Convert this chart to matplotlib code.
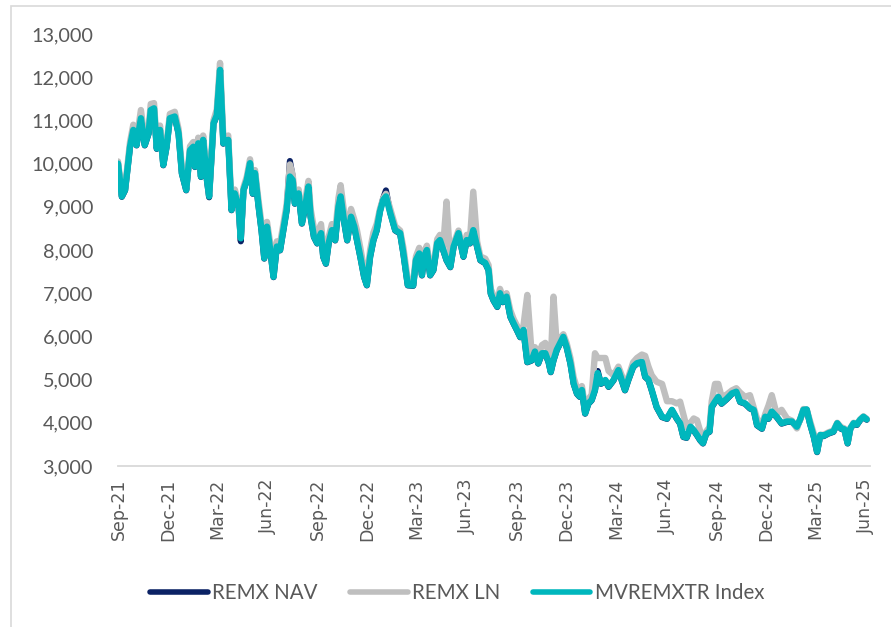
import numpy as np
import pandas as pd
import matplotlib
matplotlib.use("Agg")
import matplotlib.pyplot as plt
import matplotlib.dates as mdates
from matplotlib.ticker import FuncFormatter, MultipleLocator
from matplotlib.patches import Rectangle

START = "2021-08-31"

# days after START, shared by the three series
DAYS = [0, 7, 13, 22, 28, 34, 42, 49, 56, 60, 66, 71, 77, 83, 89, 95, 104, 111, 117, 125,
        132, 138, 141, 147, 152, 156, 163, 167, 175, 181, 187, 193, 202, 208, 214, 221, 225, 230, 236, 242,
        247, 251, 257, 263, 268, 273, 279, 285, 291, 297, 303, 309, 315, 320, 324, 331, 337, 343, 349, 353,
        359, 365, 372, 376, 381, 386, 392, 398, 404, 408, 414, 420, 427, 433, 438, 444, 451, 456, 462, 468,
        474, 480, 486, 491, 499, 508, 517, 523, 531, 541, 546, 552, 557, 561, 566, 572, 578, 585, 590, 596,
        602, 609, 615, 624, 633, 639, 645, 651, 658, 664, 673, 679, 683, 688, 695, 700, 705, 712, 719, 725,
        731, 737, 743, 750, 758, 764, 770, 777, 783, 789, 793, 798, 804, 810, 816, 822, 829, 835, 841, 846,
        850, 856, 862, 868, 874, 879, 885, 893, 899, 908, 917, 923, 929, 935, 944, 951, 960, 966, 972, 978,
        987, 997, 1006, 1015, 1024, 1030, 1036, 1042, 1049, 1055, 1061, 1067, 1072, 1078, 1084, 1088, 1094, 1100, 1106, 1115,
        1125, 1133, 1140, 1149, 1158, 1165, 1171, 1180, 1186, 1192, 1198, 1207, 1216, 1226, 1235, 1244, 1250, 1256, 1262, 1268,
        1275, 1281, 1287, 1293, 1302, 1311, 1318, 1325, 1331, 1337, 1342, 1348, 1354, 1360, 1366, 1372]

INDEX = [10000, 9240, 9390, 10390, 10780, 10430, 11050, 10430, 10700, 11240, 11280, 10350, 10780, 9970, 10390, 11050, 11090, 10700, 9780, 9390,
         10310, 10390, 9930, 10470, 9700, 10550, 9620, 9240, 10930, 11120, 12170, 10470, 10550, 8930, 9310, 9000, 8270, 9390, 9620, 10010,
         9310, 9780, 9080, 8460, 7810, 8540, 8000, 7380, 8080, 8000, 8460, 8930, 9700, 9620, 9080, 9310, 8620, 9000, 9470, 8770,
         8310, 8160, 8390, 7850, 7690, 8160, 8460, 8230, 9000, 9240, 8690, 8230, 8770, 8540, 8230, 7850, 7380, 7190, 7850, 8230,
         8460, 8890, 9160, 9240, 8850, 8460, 8390, 7920, 7190, 7180, 7770, 7920, 7420, 7850, 8000, 7420, 7540, 8160, 8230, 8000,
         7770, 7610, 8080, 8390, 7850, 8230, 8160, 8460, 8080, 7770, 7700, 7540, 7000, 6840, 6690, 7000, 6800, 6920, 6460, 6300,
         6150, 5990, 6150, 5410, 5450, 5650, 5380, 5610, 5610, 5410, 5180, 5450, 5690, 5840, 5990, 5760, 5380, 4910, 4680, 4610,
         4760, 4220, 4450, 4530, 4760, 5150, 4910, 4990, 4840, 4990, 5220, 4990, 4760, 4990, 5300, 5380, 5410, 5070, 5000, 4760,
         4370, 4140, 4100, 4300, 4100, 3990, 3680, 3660, 3910, 3830, 3720, 3600, 3530, 3760, 3800, 4370, 4490, 4600, 4450, 4550,
         4680, 4720, 4490, 4450, 4340, 4300, 3950, 3870, 4140, 4100, 4260, 4140, 3990, 4030, 4030, 3910, 4080, 4300, 4310, 3990,
         3680, 3330, 3720, 3700, 3760, 3800, 3990, 3870, 3850, 3530, 3870, 3990, 3960, 4070, 4140, 4080]

NAV = [10000, 9230, 9380, 10380, 10770, 10420, 11040, 10420, 10690, 11230, 11270, 10340, 10770, 9960, 10380, 11040, 11080, 10690, 9770, 9380,
       10300, 10380, 9920, 10460, 9690, 10540, 9610, 9220, 10920, 11110, 12160, 10460, 10540, 8920, 9300, 8990, 8200, 9380, 9610, 10000,
       9300, 9770, 9070, 8450, 7800, 8530, 7990, 7370, 8070, 7990, 8450, 8920, 10060, 9700, 9070, 9300, 8610, 8990, 9460, 8760,
       8300, 8150, 8380, 7840, 7680, 8150, 8450, 8220, 8990, 9230, 8680, 8220, 8760, 8530, 8220, 7840, 7370, 7180, 7840, 8220,
       8450, 8900, 9200, 9380, 8860, 8450, 8380, 7910, 7180, 7170, 7760, 7910, 7410, 7840, 7990, 7410, 7530, 8150, 8220, 7990,
       7760, 7600, 8070, 8380, 7840, 8220, 8150, 8450, 8070, 7760, 7690, 7530, 6990, 6830, 6680, 6990, 6790, 6910, 6450, 6290,
       6140, 5980, 6140, 5400, 5440, 5640, 5370, 5600, 5600, 5400, 5170, 5440, 5680, 5830, 5980, 5750, 5370, 4900, 4670, 4600,
       4750, 4210, 4440, 4520, 4750, 5200, 4900, 4980, 4830, 4980, 5240, 4980, 4750, 4980, 5290, 5370, 5400, 5060, 4990, 4750,
       4360, 4130, 4090, 4290, 4090, 3980, 3670, 3650, 3900, 3820, 3710, 3590, 3520, 3750, 3790, 4360, 4480, 4590, 4440, 4540,
       4670, 4740, 4480, 4440, 4330, 4290, 3940, 3860, 4130, 4090, 4250, 4130, 3980, 4020, 4020, 3900, 4070, 4290, 4300, 3980,
       3670, 3320, 3710, 3690, 3750, 3790, 3980, 3860, 3840, 3520, 3860, 3980, 3950, 4060, 4130, 4070]

LN = [10050, 9300, 9450, 10500, 10900, 10550, 11240, 10550, 10800, 11380, 11400, 10450, 10880, 10050, 10450, 11150, 11200, 10800, 9900, 9450,
      10400, 10500, 10050, 10600, 9850, 10650, 9750, 9300, 11000, 11250, 12330, 10600, 10650, 9050, 9400, 9100, 8350, 9450, 9700, 10100,
      9450, 9850, 9200, 8600, 8300, 8650, 8150, 7550, 8200, 8150, 8600, 9050, 9980, 9750, 9250, 9400, 8800, 9150, 9600, 8950,
      8500, 8350, 8600, 8100, 7900, 8300, 8600, 8400, 9200, 9500, 8900, 8450, 8950, 8700, 8450, 8050, 7550, 7300, 8000, 8400,
      8600, 8950, 9200, 9300, 8950, 8550, 8450, 8050, 7300, 7280, 7850, 8050, 7550, 7950, 8100, 7550, 7650, 8250, 8350, 8100,
      9120, 7700, 8150, 8450, 7950, 8350, 8250, 9350, 8200, 7850, 7800, 7650, 7100, 6950, 6800, 7100, 6900, 7000, 6600, 6400,
      6250, 6100, 6250, 6960, 5600, 5750, 5550, 5800, 5850, 5650, 5400, 6920, 5800, 5950, 6050, 5850, 5500, 5050, 4800, 4700,
      4850, 4350, 4550, 4650, 5610, 5500, 5500, 5500, 5200, 5100, 5300, 5100, 4900, 5050, 5400, 5500, 5580, 5550, 5300, 5100,
      4950, 4900, 4500, 4500, 4450, 4490, 4200, 3900, 4000, 4100, 4060, 3800, 3700, 3800, 3900, 4500, 4900, 4900, 4600, 4650,
      4750, 4800, 4700, 4600, 4640, 4350, 4100, 3950, 4200, 4400, 4640, 4200, 4300, 4100, 4050, 3870, 4080, 4320, 4300, 4050,
      3750, 3400, 3720, 3720, 3780, 3820, 4000, 3900, 3870, 3560, 3880, 4000, 3980, 4080, 4150, 4090]

SERIES = ["REMX NAV", "REMX LN", "MVREMXTR Index"]
COLORS = ["#0B2265", "#BFBFBF", "#00B7BD"]

dates = pd.to_datetime(START) + pd.to_timedelta(DAYS, unit="D")

W, H = 891, 627
fig = plt.figure(figsize=(W / 100, H / 100), dpi=100)
# chart frame: only left and top edges fall inside the picture
fig.patches.append(Rectangle((11 / W, -0.1), 1.2, 1.1 - 6 / H, transform=fig.transFigure,
                             fill=False, edgecolor="#D9D9D9", linewidth=1.2))

ax = fig.add_axes([118 / W, 1 - 466 / H, 752 / W, 432 / H])
ax.plot(dates, NAV, color=COLORS[0], lw=4.4, solid_capstyle="round", solid_joinstyle="round", label=SERIES[0])
ax.plot(dates, LN, color=COLORS[1], lw=4.6, solid_capstyle="round", solid_joinstyle="round", label=SERIES[1])
ax.plot(dates, INDEX, color=COLORS[2], lw=4.6, solid_capstyle="round", solid_joinstyle="round", label=SERIES[2])

ax.set_ylim(3000, 13000)
ax.set_xlim(pd.to_datetime(START), pd.to_datetime(START) + pd.Timedelta(days=1378))
ax.yaxis.set_major_locator(MultipleLocator(1000))
ax.yaxis.set_major_formatter(FuncFormatter(lambda v, p: f"{v:,.0f}"))
ax.xaxis.set_major_locator(mdates.MonthLocator(bymonth=[3, 6, 9, 12], bymonthday=1))
ax.xaxis.set_major_formatter(mdates.DateFormatter("%b-%y"))

for s in ["top", "right", "left"]:
    ax.spines[s].set_visible(False)
ax.spines["bottom"].set_color("#D9D9D9")
ax.spines["bottom"].set_linewidth(1.3)
ax.tick_params(axis="both", length=0)
ax.tick_params(axis="y", pad=18, labelsize=14.3, labelcolor="#595959")
ax.tick_params(axis="x", pad=9, labelsize=12.5, labelcolor="#595959", rotation=90)
for t in ax.get_yticklabels():
    t.set_fontfamily("Lato")
for t in ax.get_xticklabels():
    t.set_fontfamily("DejaVu Sans")

leg = fig.legend(loc="center", bbox_to_anchor=(457 / W, 1 - 593 / H), ncol=3, frameon=False,
                 handlelength=2.8, handletextpad=0.2, columnspacing=1.6,
                 prop={"family": "Lato", "size": 14.8})
for t in leg.get_texts():
    t.set_color("#595959")
for h in leg.get_lines():
    h.set_linewidth(4.0)

fig.savefig("out.png", dpi=100)
